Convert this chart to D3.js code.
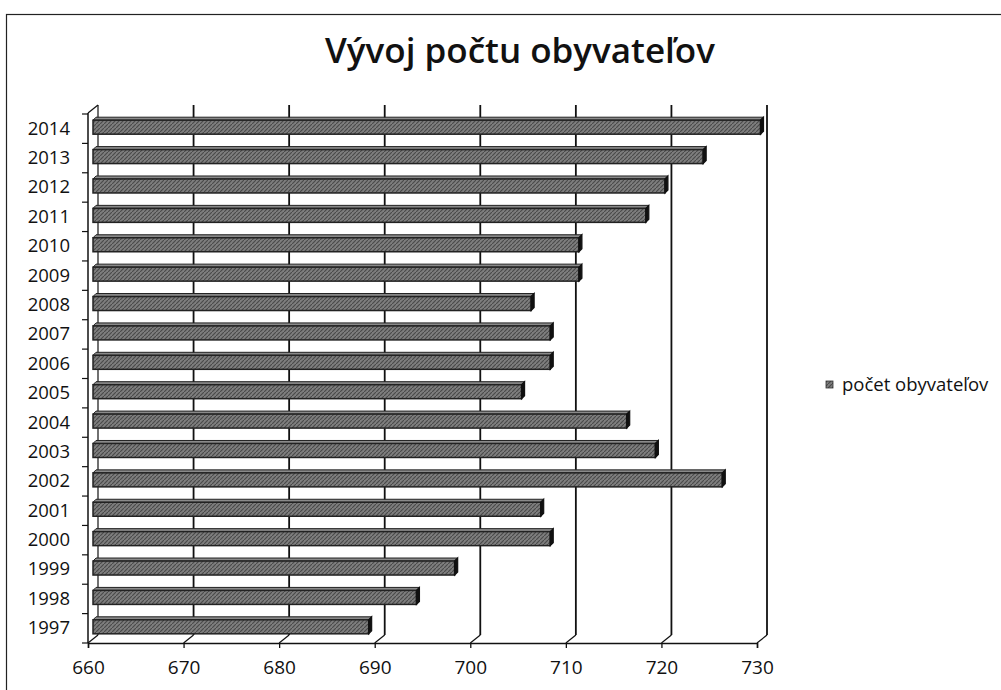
<!DOCTYPE html>
<html><head><meta charset="utf-8">
<script src="https://cdn.jsdelivr.net/npm/d3@7"></script>
<style>body{margin:0;background:#fff;} svg{display:block;}</style>
</head><body>
<svg id="c" width="1001" height="690"></svg>
<script>
const years = [1997,1998,1999,2000,2001,2002,2003,2004,2005,2006,2007,2008,2009,2010,2011,2012,2013,2014];
const population = [689,694,698,708,707,726,719,716,705,708,708,706,711,711,718,720,724,730];
const xTicks = [660,670,680,690,700,710,720,730];
const title = "Vývoj počtu obyvateľov";
const seriesName = "počet obyvateľov";

const svg = d3.select("#c");
const FONT = "'Open Sans', sans-serif";
const DX = 10, DY = -8;

svg.append("rect").attr("x",6.5).attr("y",14.5).attr("width",1100).attr("height",800)
  .attr("fill","none").attr("stroke","#222").attr("stroke-width",1.2);

const x = d3.scaleLinear().domain([660,730]).range([88,757]);
const y = d3.scaleBand().domain(years.slice().reverse()).range([114,643]).paddingInner(0.5).paddingOuter(0.25);
const yFloor = 643;

const defs = svg.append("defs");
const pat = defs.append("pattern").attr("id","dither").attr("width",4).attr("height",4).attr("patternUnits","userSpaceOnUse");
pat.append("rect").attr("width",4).attr("height",4).attr("fill","#7e7e7e");
pat.append("path").attr("d","M0,4 L4,0").attr("stroke","#4a4a4a").attr("stroke-width",1.2);

const g = svg.append("g");
xTicks.forEach(v => {
  g.append("line").attr("x1",x(v)+DX).attr("x2",x(v)+DX).attr("y1",113+DY).attr("y2",yFloor+DY)
    .attr("stroke","#111").attr("stroke-width",v===660?1.2:1.8);
  g.append("line").attr("x1",x(v)).attr("y1",yFloor).attr("x2",x(v)+DX).attr("y2",yFloor+DY)
    .attr("stroke","#111").attr("stroke-width",1.2);
});
g.append("line").attr("x1",x(660)).attr("y1",113).attr("x2",x(660)+DX).attr("y2",113+DY).attr("stroke","#111").attr("stroke-width",1.2);

const xAxis = svg.append("g").attr("transform",`translate(0,${yFloor})`)
  .call(d3.axisBottom(x).tickValues(xTicks).tickSize(5).tickPadding(13).tickFormat(d3.format("d")));
xAxis.select(".domain").attr("stroke","#111").attr("stroke-width",1.5);
xAxis.selectAll(".tick line").attr("stroke","#111").attr("stroke-width",1.3);
xAxis.selectAll("text").attr("font-family",FONT).attr("font-size",19).attr("fill","#111");

const yAxis = svg.append("g").attr("transform",`translate(${x(660)},0)`)
  .call(d3.axisLeft(y).tickSize(0).tickPadding(18));
yAxis.select(".domain").attr("d",`M0,113V${yFloor}`).attr("stroke","#111").attr("stroke-width",1.5);
yAxis.selectAll("text").attr("font-family",FONT).attr("font-size",18.5).attr("fill","#111");
d3.range(years.length+1).forEach(i => {
  const yy = 114 + i*(529/years.length);
  yAxis.append("line").attr("x1",-6).attr("x2",0).attr("y1",yy).attr("y2",yy).attr("stroke","#111").attr("stroke-width",1.2);
});

const bd = 3, bh = 3;
const bars = svg.append("g");
years.forEach((yr,i) => {
  const v = population[i];
  const x0 = x(660) + 5, x1 = x(v) + 5 - bd/2;
  const yc = y(yr) + y.bandwidth()/2 - 3;
  const h = 14;
  const top = yc - h/2 + bh/2, bot = yc + h/2 + bh/2;
  bars.append("path").attr("d",`M${x0},${top} L${x0+bd},${top-bh} L${x1+bd},${top-bh} L${x1},${top} Z`)
    .attr("fill","#8a8a8a").attr("stroke","#222").attr("stroke-width",1);
  bars.append("rect").attr("x",x0).attr("y",top).attr("width",x1-x0).attr("height",bot-top)
    .attr("fill","url(#dither)").attr("stroke","#222").attr("stroke-width",1.5);
  bars.append("path").attr("d",`M${x1},${top} L${x1+bd},${top-bh} L${x1+bd},${bot-bh} L${x1},${bot} Z`)
    .attr("fill","#111").attr("stroke","#111").attr("stroke-width",1.2);
});

svg.append("text").attr("x",520).attr("y",63).attr("text-anchor","middle")
  .attr("font-family",FONT).attr("font-weight","600").attr("font-size",35).attr("fill","#111").text(title);

svg.append("rect").attr("x",826).attr("y",381).attr("width",7).attr("height",7).attr("fill","url(#dither)").attr("stroke","#333").attr("stroke-width",0.8);
svg.append("text").attr("x",842).attr("y",385).attr("dy","0.35em").attr("font-family",FONT).attr("font-size",18.5).attr("fill","#111").text(seriesName);
</script>
</body></html>
